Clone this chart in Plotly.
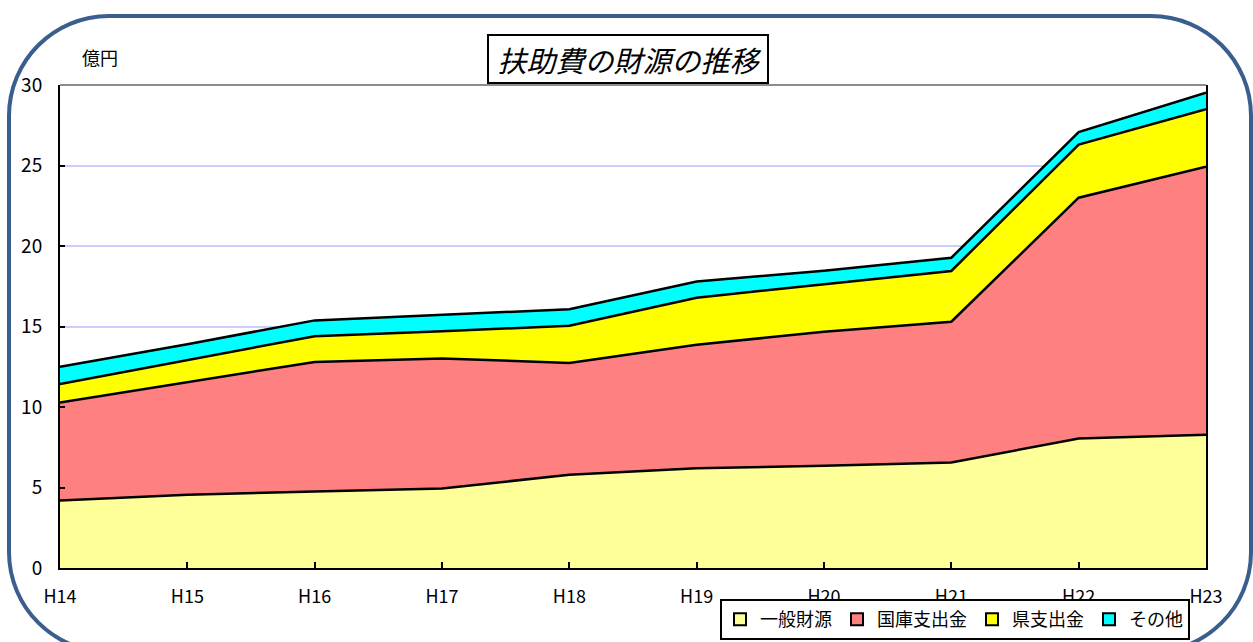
import plotly.graph_objects as go

years = ["H14", "H15", "H16", "H17", "H18", "H19", "H20", "H21", "H22", "H23"]
general = [4.20, 4.55, 4.75, 4.94, 5.79, 6.20, 6.35, 6.55, 8.05, 8.28]   # 一般財源
kokko = [6.08, 6.99, 8.05, 8.08, 6.94, 7.67, 8.32, 8.75, 14.95, 16.65]   # 国庫支出金
ken = [1.15, 1.38, 1.60, 1.68, 2.32, 2.92, 2.93, 3.15, 3.30, 3.56]       # 県支出金
other = [1.07, 0.98, 0.98, 1.03, 1.02, 1.01, 0.87, 0.82, 0.78, 1.03]     # その他

names = ["一般財源", "国庫支出金", "県支出金", "その他"]
colors = ["#FFFF99", "#FF8080", "#FFFF00", "#00FFFF"]
series = [general, kokko, ken, other]

FONT = "Noto Sans CJK JP"
W, H = 1253, 642
L, R, T, B = 60, 47, 85, 74
pw, ph = W - L - R, H - T - B

fig = go.Figure()
for name, col, vals in zip(names, colors, series):
    fig.add_trace(go.Scatter(
        x=years, y=vals, name=name, stackgroup="one", mode="lines",
        line=dict(color="black", width=2.5), fillcolor=col,
        showlegend=False, legendgroup=name, hoverinfo="x+y+name"))
for name, col in zip(names, colors):
    fig.add_trace(go.Scatter(
        x=[None], y=[None], name=name, mode="markers", legendgroup=name,
        marker=dict(symbol="square", size=12, color=col,
                    line=dict(color="black", width=2))))

def px(x):
    return (x - L) / pw

def py(y):
    return (H - B - y) / ph

# rounded frame in pixel coordinates converted to paper coordinates
x0, x1, y0, y1, r = 9, 1251, 16, 652, 100
k = 0.5523 * r
pts = [("M", [(x0 + r, y0)]), ("L", [(x1 - r, y0)]),
       ("C", [(x1 - r + k, y0), (x1, y0 + r - k), (x1, y0 + r)]),
       ("L", [(x1, y1 - r)]),
       ("C", [(x1, y1 - r + k), (x1 - r + k, y1), (x1 - r, y1)]),
       ("L", [(x0 + r, y1)]),
       ("C", [(x0 + r - k, y1), (x0, y1 - r + k), (x0, y1 - r)]),
       ("L", [(x0, y0 + r)]),
       ("C", [(x0, y0 + r - k), (x0 + r - k, y0), (x0 + r, y0)])]
path = ""
for cmd, ps in pts:
    path += cmd + " " + " ".join(f"{px(a):.5f},{py(b):.5f}" for a, b in ps) + " "
path += "Z"

fig.update_layout(
    width=W, height=H,
    margin=dict(l=L, r=R, t=T, b=B, autoexpand=False),
    paper_bgcolor="white", plot_bgcolor="white",
    font=dict(family=FONT, color="black", size=17),
    showlegend=True,
    legend=dict(orientation="h", x=px(720), y=py(599), xanchor="left", yanchor="top",
                bgcolor="white", bordercolor="black", borderwidth=2,
                font=dict(family=FONT, size=18, color="black"),
                itemwidth=30, tracegroupgap=0),
    xaxis=dict(type="category", range=[0, len(years) - 1], showgrid=False,
               showline=True, linecolor="black", linewidth=2,
               ticks="inside", ticklen=6, tickwidth=2, tickcolor="black",
               tickfont=dict(family=FONT, size=18), ticklabelstandoff=11,
               zeroline=False, fixedrange=True),
    yaxis=dict(range=[0, 30], dtick=5, showgrid=True, gridcolor="#CCCCFF", gridwidth=2,
               showline=True, linecolor="black", linewidth=2, mirror=True,
               ticks="inside", ticklen=5, tickwidth=2, tickcolor="black",
               tickfont=dict(family=FONT, size=19), ticklabelstandoff=12,
               zeroline=False, fixedrange=True),
    shapes=[
        dict(type="line", xref="paper", yref="paper", x0=0, x1=1, y0=1, y1=1,
             line=dict(color="#8C8C8C", width=2), layer="above"),
        dict(type="path", xref="paper", yref="paper", path=path,
             line=dict(color="#3A5F8F", width=4), fillcolor="rgba(0,0,0,0)", layer="above"),
    ],
    annotations=[
        dict(text="&nbsp;扶助費の財源の推移&nbsp;", xref="paper", yref="paper",
             x=px(628), y=py(84), xanchor="center", yanchor="bottom", showarrow=False,
             font=dict(family=FONT, size=29, style="italic", color="black"),
             bgcolor="white", bordercolor="black", borderwidth=2, borderpad=2),
        dict(text="億円", xref="paper", yref="paper", x=px(80), y=py(57),
             xanchor="left", yanchor="middle", showarrow=False,
             font=dict(family=FONT, size=18, color="black")),
    ],
)

fig.write_html("out.html", config={"displayModeBar": False},
               post_script="document.body.style.margin='0';document.body.style.overflow='hidden';")
